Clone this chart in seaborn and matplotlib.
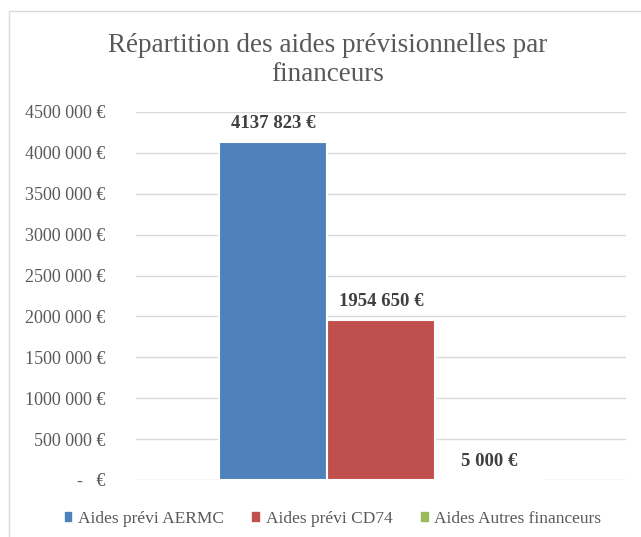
import matplotlib
matplotlib.use("Agg")
import matplotlib.pyplot as plt
import seaborn as sns
import pandas as pd
from matplotlib.patches import Rectangle
from matplotlib.ticker import FixedLocator, FixedFormatter

title = "Répartition des aides prévisionnelles par\nfinanceurs"
series = ["Aides prévi AERMC", "Aides prévi CD74", "Aides Autres financeurs"]
values = [4137823, 1954650, 5000]
value_labels = ["4137 823 €", "1954 650 €", "5 000 €"]
colors = ["#4F81BD", "#C0504D", "#9BBB59"]
yticks = [0, 500000, 1000000, 1500000, 2000000, 2500000, 3000000, 3500000, 4000000, 4500000]
ytick_labels = ["-   €", "500 000 €", "1000 000 €", "1500 000 €", "2000 000 €",
                "2500 000 €", "3000 000 €", "3500 000 €", "4000 000 €", "4500 000 €"]

df = pd.DataFrame({"cat": ["Total"] * 3, "serie": series, "val": values})

sns.set_theme(style="white")
plt.rcParams["font.family"] = ["Liberation Serif", "DejaVu Serif"]

fig = plt.figure(figsize=(6.41, 5.37), dpi=100)
ax = fig.add_axes([136/641, 1 - 480/537, (626-136)/641, (480-112)/537])

sns.barplot(data=df, x="cat", y="val", hue="serie", hue_order=series,
            palette=colors, width=0.66, ax=ax, edgecolor="white", linewidth=1.5,
            saturation=1, legend=False, gap=0)

ax.set_xlim(-0.5, 0.5)
ax.set_ylim(0, 4500000)
ax.yaxis.set_major_locator(FixedLocator(yticks))
ax.yaxis.set_major_formatter(FixedFormatter(ytick_labels))
ax.grid(axis="y", color="#D9D9D9", linewidth=1)
ax.set_axisbelow(True)
for s in ax.spines.values():
    s.set_visible(False)
ax.set_xlabel("")
ax.set_ylabel("")
ax.set_xticks([])
ax.tick_params(axis="y", length=0, pad=22, labelsize=13, labelcolor="#595959")

for cont, lab in zip(ax.containers, value_labels):
    ax.bar_label(cont, labels=[lab], padding=7, fontsize=13.5, fontweight="bold",
                 color="#404040")

fig.text(328/641, 1 - 60/537, title, ha="center", va="center", fontsize=19.5,
         color="#595959", linespacing=1.25)

handles = [Rectangle((0, 0), 1, 1, color=c) for c in colors]
fig.legend(handles, series, loc="center", bbox_to_anchor=(333/641, 1 - 519/537),
           ncol=3, frameon=False, fontsize=12.5, labelcolor="#595959",
           handlelength=0.4, handleheight=0.4, handletextpad=0.4, columnspacing=1.6)

fig.patches.append(Rectangle((9/641, -0.01), 1.0, 1 - 11/537 + 0.01,
                             transform=fig.transFigure, fill=False,
                             edgecolor="#D9D9D9", linewidth=1))

fig.savefig("out.png", dpi=100, facecolor="white")
